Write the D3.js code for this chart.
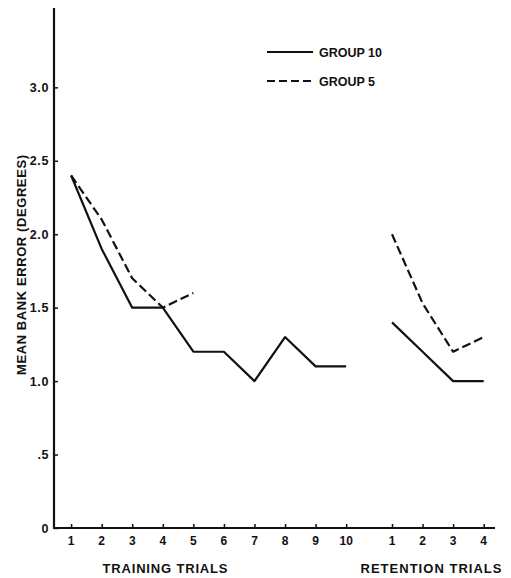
<!DOCTYPE html>
<html>
<head>
<meta charset="utf-8">
<script src="https://cdn.jsdelivr.net/npm/d3@7"></script>
<style>
  body { margin: 0; background: #fff; }
  text { font-family: "Liberation Sans", Arial, sans-serif; font-weight: bold; fill: #111; }
</style>
</head>
<body>
<svg id="chart" width="511" height="578"></svg>
<script>
// trial numbers shown on the x axis
var trainingTrials = [1, 2, 3, 4, 5, 6, 7, 8, 9, 10];
var retentionTrials = [1, 2, 3, 4];
var yTicks = [0, 0.5, 1.0, 1.5, 2.0, 2.5, 3.0];
var yTickLabels = ['0', '.5', '1.0', '1.5', '2.0', '2.5', '3.0'];

// mean bank error in degrees
var group10Training = [2.4, 1.9, 1.5, 1.5, 1.2, 1.2, 1.0, 1.3, 1.1, 1.1];
var group5Training = [2.4, 2.1, 1.7, 1.5, 1.6];
var group10Retention = [1.4, 1.2, 1.0, 1.0];
var group5Retention = [2.0, 1.53, 1.2, 1.3];

var svg = d3.select('#chart');
var ink = '#111';

// retention trials sit after a gap of one and a half trial widths
var retentionOffset = 10.5;

var x = d3.scaleLinear().domain([0.44, 14.87]).range([54, 495]);
var y = d3.scaleLinear().domain([0, 3.54]).range([528, 8]);

var pos = function(series, offset) {
  return series.map(function(v, i) {
    return { p: i + 1 + offset, v: v };
  });
};

var line = d3.line()
  .x(function(d) { return x(d.p); })
  .y(function(d) { return y(d.v); });

// d3 axis for the inward ticks, the domain is redrawn as a heavier line
var yAxis = svg.append('g').attr('transform', 'translate(' + x(0.44) + ',0)')
  .call(d3.axisRight(y).tickValues(yTicks).tickSize(4).tickFormat(''));
yAxis.select('.domain').remove();
yAxis.selectAll('line').attr('stroke', ink).attr('stroke-width', 1.5);
svg.append('line')
  .attr('x1', x(0.44)).attr('x2', x(0.44))
  .attr('y1', y(3.54)).attr('y2', y(0))
  .attr('stroke', ink).attr('stroke-width', 2.2);

svg.selectAll('.ytl').data(yTicks).enter().append('text')
  .attr('class', 'ytl')
  .attr('x', 49)
  .attr('y', function(d) { return y(d) + 4.5; })
  .attr('text-anchor', 'end')
  .attr('font-size', 12.5)
  .attr('letter-spacing', 0.6)
  .text(function(d, i) { return yTickLabels[i]; });

var allTicks = trainingTrials.map(function(t) { return { p: t, label: t }; })
  .concat(retentionTrials.map(function(t) { return { p: t + retentionOffset, label: t }; }));

var xAxis = svg.append('g').attr('transform', 'translate(0,' + y(0) + ')')
  .call(d3.axisTop(x).tickValues(allTicks.map(function(d) { return d.p; })).tickSize(4).tickFormat(''));
xAxis.select('.domain').remove();
xAxis.selectAll('line').attr('stroke', ink).attr('stroke-width', 1.5);
svg.append('line')
  .attr('x1', x(0.44) - 1).attr('x2', x(14.87))
  .attr('y1', y(0)).attr('y2', y(0))
  .attr('stroke', ink).attr('stroke-width', 2.2);

svg.selectAll('.xtl').data(allTicks).enter().append('text')
  .attr('class', 'xtl')
  .attr('x', function(d) { return x(d.p); })
  .attr('y', 545)
  .attr('text-anchor', 'middle')
  .attr('font-size', 12)
  .text(function(d) { return d.label; });

// axis titles
svg.append('text')
  .attr('x', 165).attr('y', 573)
  .attr('text-anchor', 'middle')
  .attr('font-size', 13)
  .attr('textLength', 125).attr('lengthAdjust', 'spacing')
  .text('TRAINING TRIALS');
svg.append('text')
  .attr('x', 431).attr('y', 573)
  .attr('text-anchor', 'middle')
  .attr('font-size', 13)
  .attr('textLength', 141).attr('lengthAdjust', 'spacing')
  .text('RETENTION TRIALS');
svg.append('text')
  .attr('transform', 'translate(26,265) rotate(-90)')
  .attr('text-anchor', 'middle')
  .attr('font-size', 13)
  .attr('textLength', 220).attr('lengthAdjust', 'spacing')
  .text('MEAN BANK ERROR  (DEGREES)');

// data lines
var series = [
  { data: pos(group10Training, 0), dash: null },
  { data: pos(group5Training, 0), dash: '9,4' },
  { data: pos(group10Retention, retentionOffset), dash: null },
  { data: pos(group5Retention, retentionOffset), dash: '9,4' }
];
svg.selectAll('.series').data(series).enter().append('path')
  .attr('class', 'series')
  .attr('d', function(d) { return line(d.data); })
  .attr('fill', 'none')
  .attr('stroke', ink)
  .attr('stroke-width', 2.2)
  .attr('stroke-linejoin', 'round')
  .attr('stroke-dasharray', function(d) { return d.dash; });

// legend
var legend = [
  { label: 'GROUP 10', dash: null, y: 52 },
  { label: 'GROUP 5', dash: '8,4', y: 81 }
];
var lg = svg.selectAll('.legend').data(legend).enter().append('g').attr('class', 'legend');
lg.append('line')
  .attr('x1', 267).attr('x2', 313)
  .attr('y1', function(d) { return d.y; }).attr('y2', function(d) { return d.y; })
  .attr('stroke', ink).attr('stroke-width', 2)
  .attr('stroke-dasharray', function(d) { return d.dash; });
lg.append('text')
  .attr('x', 319)
  .attr('y', function(d) { return d.y + 5; })
  .attr('font-size', 12.5)
  .text(function(d) { return d.label; });
</script>
</body>
</html>
